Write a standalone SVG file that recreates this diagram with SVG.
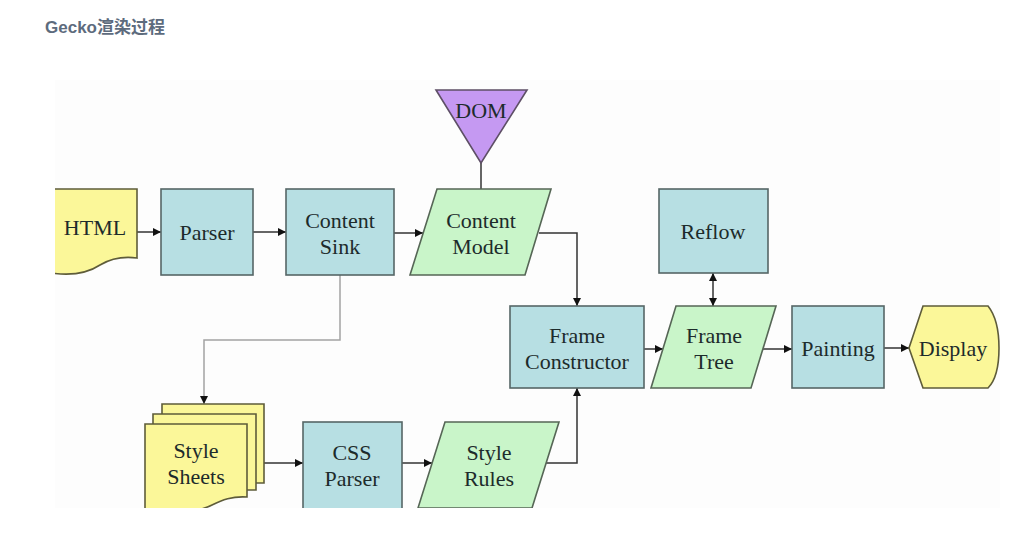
<svg xmlns="http://www.w3.org/2000/svg" width="1031" height="535" viewBox="0 0 1031 535">
<style>
.t{font-family:"Liberation Serif","Times New Roman",serif;font-size:22px;fill:#1d2b2b;text-anchor:middle}
.blue{fill:#b7dfe3;stroke:#566666;stroke-width:1.6}
.green{fill:#c9f5c9;stroke:#566656;stroke-width:1.6}
.yellow{fill:#fbf799;stroke:#5e5c3a;stroke-width:1.6}
.purple{fill:#c599f2;stroke:#5e4f66;stroke-width:1.6}
.c{fill:none;stroke:#333;stroke-width:1.5}
.g{fill:none;stroke:#a3a3a3;stroke-width:1.5}
</style>
<defs>
<marker id="ah" viewBox="0 0 8 8" markerWidth="8" markerHeight="8" refX="8" refY="4" orient="auto-start-reverse" markerUnits="userSpaceOnUse">
<path d="M0,0 L8,4 L0,8 z" fill="#111"/>
</marker>
<clipPath id="clip"><rect x="55" y="80" width="945" height="428"/></clipPath>
</defs>
<rect width="1031" height="535" fill="#ffffff"/>
<text x="45" y="33" font-family="Liberation Sans,Arial,'Noto Sans CJK SC',sans-serif" font-size="17" font-weight="bold" fill="#5d6b7d">Gecko渲染过程</text>
<g clip-path="url(#clip)">
<rect x="55" y="80" width="945" height="428" fill="#fdfdfd"/>
<g id="connectors">
<line class="c" x1="137" y1="232" x2="161" y2="232" marker-end="url(#ah)"/>
<line class="c" x1="253" y1="232" x2="286" y2="232" marker-end="url(#ah)"/>
<line class="c" x1="394" y1="233" x2="423" y2="233" marker-end="url(#ah)"/>
<line class="c" x1="481" y1="163" x2="481" y2="189"/>
<polyline class="c" points="539,233 577,233 577,306" marker-end="url(#ah)"/>
<polyline class="g" points="340,275 340,340 204,340 204,404" marker-end="url(#ah)"/>
<line class="c" x1="264" y1="463" x2="303" y2="463" marker-end="url(#ah)"/>
<line class="c" x1="402" y1="463" x2="432" y2="463" marker-end="url(#ah)"/>
<polyline class="c" points="546,463 577,463 577,388" marker-end="url(#ah)"/>
<line class="c" x1="644" y1="349" x2="663" y2="349" marker-end="url(#ah)"/>
<line class="c" x1="713" y1="273" x2="713" y2="306" marker-start="url(#ah)" marker-end="url(#ah)"/>
<line class="c" x1="763" y1="349" x2="792" y2="349" marker-end="url(#ah)"/>
<line class="c" x1="884" y1="348" x2="909" y2="348" marker-end="url(#ah)"/>
</g>
<g id="html">
<path class="yellow" d="M45,189 H137 V258 C122,256 110,259 100,265 C88,273 72,277 45,272 Z"/>
<text class="t" x="95" y="235">HTML</text>
</g>
<g id="parser">
<rect class="blue" x="161" y="189" width="92" height="86"/>
<text class="t" x="207" y="240">Parser</text>
</g>
<g id="content-sink">
<rect class="blue" x="286" y="189" width="108" height="86"/>
<text class="t" x="340" y="228">Content</text>
<text class="t" x="340" y="254">Sink</text>
</g>
<g id="dom">
<path class="purple" d="M436,90 H527 L481,163 Z"/>
<text class="t" x="481" y="118">DOM</text>
</g>
<g id="content-model">
<path class="green" d="M437,189 H551 L525,275 H410 Z"/>
<text class="t" x="481" y="228">Content</text>
<text class="t" x="481" y="254">Model</text>
</g>
<g id="reflow">
<rect class="blue" x="659" y="189" width="109" height="84"/>
<text class="t" x="713" y="239">Reflow</text>
</g>
<g id="frame-constructor">
<rect class="blue" x="510" y="306" width="134" height="82"/>
<text class="t" x="577" y="343">Frame</text>
<text class="t" x="577" y="369">Constructor</text>
</g>
<g id="frame-tree">
<path class="green" d="M676,306 H776 L751,388 H651 Z"/>
<text class="t" x="714" y="343">Frame</text>
<text class="t" x="714" y="369">Tree</text>
</g>
<g id="painting">
<rect class="blue" x="792" y="306" width="92" height="82"/>
<text class="t" x="838" y="356">Painting</text>
</g>
<g id="display">
<path class="yellow" d="M909,348 L923,306 H988 C996,316 999,332 999,348 C999,364 996,380 988,388 H923 Z"/>
<text class="t" x="953" y="356">Display</text>
</g>
<g id="style-sheets">
<path class="yellow" d="M162,404 H264 V483 L162,483 Z"/>
<path class="yellow" d="M153,414 H256 V490 L153,490 Z"/>
<path class="yellow" d="M145,424 H247 V497 C232,496 222,500 212,505 C198,512 170,516 145,512 Z"/>
<text class="t" x="196" y="458">Style</text>
<text class="t" x="196" y="484">Sheets</text>
</g>
<g id="css-parser">
<rect class="blue" x="303" y="422" width="99" height="90"/>
<text class="t" x="352" y="460">CSS</text>
<text class="t" x="352" y="486">Parser</text>
</g>
<g id="style-rules">
<path class="green" d="M445,422 H559 L532,508 H418 Z"/>
<text class="t" x="489" y="460">Style</text>
<text class="t" x="489" y="486">Rules</text>
</g>
</g>
</svg>
